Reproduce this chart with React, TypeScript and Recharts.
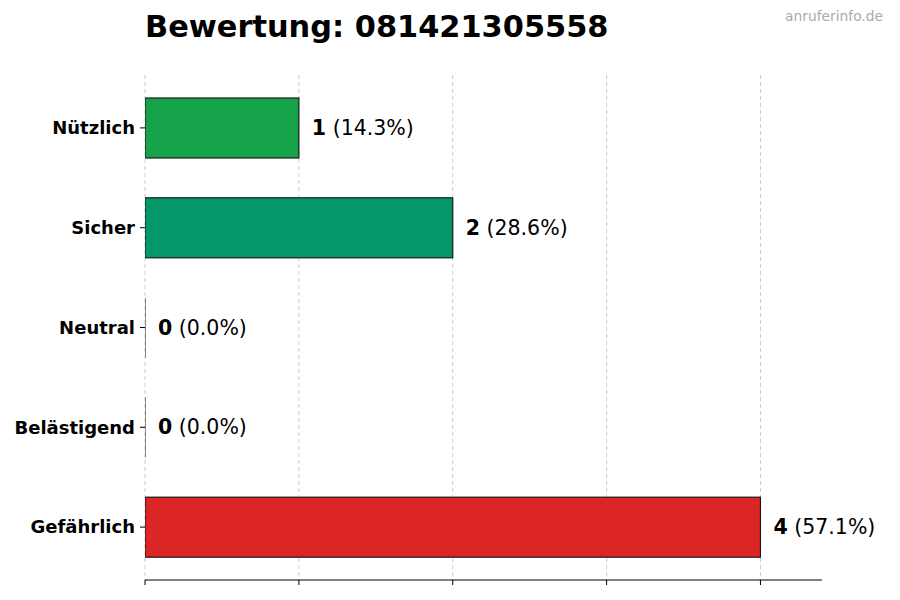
import React from 'react'
import {
  BarChart,
  Bar,
  XAxis,
  YAxis,
  CartesianGrid,
  Cell,
  LabelList
} from 'recharts'

const categories = ['Nützlich', 'Sicher', 'Neutral', 'Belästigend', 'Gefährlich']
const counts = [1, 2, 0, 0, 4]
const barColors = ['#16a34a', '#059669', '#6b7280', '#ea580c', '#dc2626']
const xTicks = [0, 1, 2, 3, 4]
const X_MAX = 4.4

const total = counts.reduce((a, b) => a + b, 0)
const data = categories.map((name, i) => ({
  name,
  count: counts[i],
  pct: total ? (counts[i] / total) * 100 : 0
}))

const FONT = '"DejaVu Sans", sans-serif'

// bars with an edge, zero bars only show their thin edge line
const BarShape = (props: any) => {
  const { x, y, width, height, fill } = props
  if (width < 1) {
    return <line x1={x} x2={x} y1={y} y2={y + height} stroke="#1a1a1a" strokeWidth={1} />
  }
  return (
    <rect
      x={x}
      y={y}
      width={width}
      height={height}
      fill={fill}
      stroke="#1a1a1a"
      strokeWidth={1.2}
    />
  )
}

const ValueLabel = (props: any) => {
  const { x, y, height, index } = props
  const d = data[index]
  const w = props.width < 1 ? 0 : props.width
  return (
    <text
      x={x + w + 13}
      y={y + height / 2}
      dominantBaseline="central"
      fontFamily={FONT}
      fontSize={20.5}
      fill="#000"
    >
      <tspan fontWeight="bold">{d.count}</tspan>
      <tspan> ({d.pct.toFixed(1)}%)</tspan>
    </text>
  )
}

// grid only at the tick values, not at the domain end
const gridX = ({ offset }: any) =>
  xTicks.map((t) => offset.left + (t / X_MAX) * offset.width)

export default function App() {
  return (
    <div style={{ position: 'absolute', left: 0, top: 0, width: 900, height: 600, background: '#fff' }}>
      <div
        style={{
          position: 'absolute',
          left: 145,
          top: 9,
          fontFamily: FONT,
          fontWeight: 'bold',
          fontSize: 30.4,
          color: '#000',
          whiteSpace: 'nowrap'
        }}
      >
        Bewertung: 081421305558
      </div>
      <div
        style={{
          position: 'absolute',
          right: 17,
          top: 8,
          fontFamily: FONT,
          fontSize: 13.8,
          color: '#aaaaaa'
        }}
      >
        anruferinfo.de
      </div>
      <BarChart
        width={900}
        height={600}
        data={data}
        layout="vertical"
        margin={{ top: 75, right: 78, left: 0, bottom: 0 }}
        barCategoryGap={0}
      >
        <CartesianGrid
          horizontal={false}
          stroke="#cccccc"
          strokeDasharray="4 3"
          verticalCoordinatesGenerator={gridX}
        />
        <XAxis
          type="number"
          domain={[0, X_MAX]}
          ticks={xTicks}
          height={20}
          allowDataOverflow
          axisLine={{ stroke: '#000', strokeWidth: 1 }}
          tickLine={{ stroke: '#000' }}
          stroke="#000"
          tickSize={5}
          tick={() => <g />}
        />
        <YAxis
          type="category"
          dataKey="name"
          width={145}
          axisLine={false}
          tickLine={{ stroke: '#000' }}
          stroke="#000"
          tickSize={5}
          tickMargin={5}
          padding={{ top: 3, bottom: 3 }}
          tick={{ fontFamily: FONT, fontWeight: 'bold', fontSize: 18, fill: '#000' }}
        />
        <Bar
          dataKey="count"
          barSize={60}
          minPointSize={0.5}
          isAnimationActive={false}
          shape={BarShape}
        >
          {data.map((d, i) => (
            <Cell key={d.name} fill={barColors[i]} />
          ))}
          <LabelList dataKey="count" content={ValueLabel} />
        </Bar>
      </BarChart>
    </div>
  )
}
